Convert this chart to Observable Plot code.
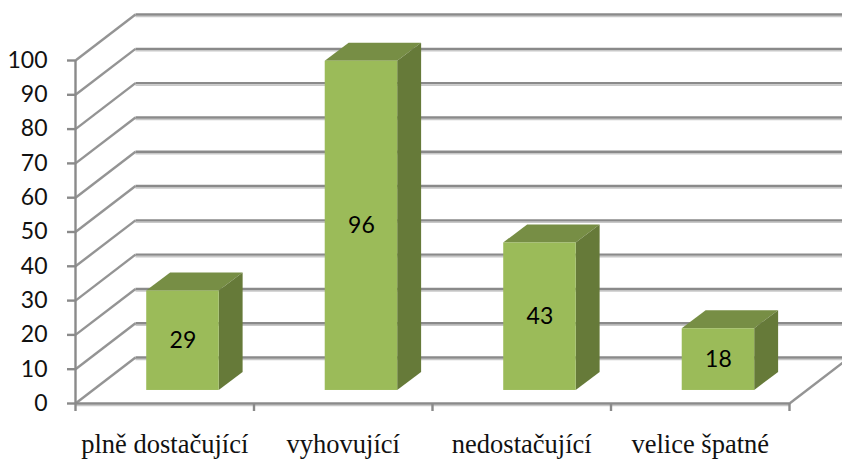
<!DOCTYPE html>
<html>
<head>
<meta charset="utf-8">
<script src="https://cdn.jsdelivr.net/npm/d3@7"></script>
<script src="https://cdn.jsdelivr.net/npm/@observablehq/plot@0.6"></script>
<style>
html,body{margin:0;padding:0;background:#fff;overflow:hidden}
svg{display:block}
</style>
</head>
<body>
<div id="chart"></div>
<script>
const categories = ["plně dostačující", "vyhovující", "nedostačující", "velice špatné"];
const values = [29, 96, 43, 18];
const yTicks = [0, 10, 20, 30, 40, 50, 60, 70, 80, 90, 100];

// Pseudo-3D projection, in scale units (category slots and value units)
const wallX = 0.336, wallY = 13.4;   // depth of the chart box
const barInX = 0.102, barInY = 3.8;  // bar inset from the front of the floor
const barW = 0.406;                  // bar width
const barDX = 0.134, barDY = 5.25;   // depth of a bar

const rows = categories.map((name, i) => {
  const x1 = i + 0.5 - barW / 2 + barInX, x2 = x1 + barW;
  return {name, value: values[i], x1, x2, base: barInY, top: values[i] + barInY};
});
const topFace = rows.flatMap(d => [
  {name: d.name, y: d.top, x1: d.x1, x2: d.x2},
  {name: d.name, y: d.top + barDY, x1: d.x1 + barDX, x2: d.x2 + barDX}
]);
const sideFace = rows.flatMap(d => [
  {name: d.name, x: d.x2, y1: d.base, y2: d.top},
  {name: d.name, x: d.x2 + barDX, y1: d.base + barDY, y2: d.top + barDY}
]);

const grid = "#8a8a8a";
const shade = "#c8c8c8";
const chart = Plot.plot({
  width: 842, height: 461,
  marginLeft: 75, marginRight: 53, marginTop: 60, marginBottom: 58,
  x: {domain: [0, categories.length], axis: null},
  y: {domain: [0, 100], axis: null},
  marks: [
    // soft edge under the back wall lines
    Plot.link(yTicks, {x1: wallX, x2: categories.length + wallX, y1: d => d + wallY, y2: d => d + wallY, dy: 2, stroke: shade, strokeWidth: 1.5}),
    // back wall lines
    Plot.link(yTicks, {x1: wallX, x2: categories.length + wallX, y1: d => d + wallY, y2: d => d + wallY, stroke: grid, strokeWidth: 2.4}),
    // side wall lines
    Plot.link(yTicks, {x1: 0, x2: wallX, y1: d => d, y2: d => d + wallY, stroke: "#949494", strokeWidth: 2.4}),
    // right floor edge
    Plot.link([0], {x1: categories.length, x2: categories.length + wallX, y1: 0, y2: wallY, stroke: "#949494", strokeWidth: 2.4}),
    // front floor edge and vertical axis
    Plot.ruleY([0], {x1: 0, x2: categories.length, dy: 2, stroke: shade, strokeWidth: 1.5}),
    Plot.ruleY([0], {x1: 0, x2: categories.length, stroke: grid, strokeWidth: 2.4}),
    Plot.ruleX([0], {y1: 0, y2: 100, stroke: grid, strokeWidth: 2.4}),
    // axes
    Plot.axisY({ticks: yTicks, tickSize: 8, tickPadding: 20, stroke: grid, strokeWidth: 2.4, fontSize: 23, fontFamily: "Lato", fill: "#111", marginLeft: 75}),
    Plot.axisX({ticks: d3.range(categories.length + 1), tickSize: 8, stroke: grid, strokeWidth: 2.4, tickFormat: () => ""}),
    Plot.axisX({ticks: categories.map((_, i) => i + 0.5), tickSize: 0, tickPadding: 31, fontSize: 26.5, fontFamily: "Liberation Serif", fill: "#111", tickFormat: d => categories[d - 0.5]}),
    // bars
    Plot.areaX(topFace, {y: "y", x1: "x1", x2: "x2", z: "name", fill: "#778e45"}),
    Plot.areaY(sideFace, {x: "x", y1: "y1", y2: "y2", z: "name", fill: "#667a39"}),
    Plot.rect(rows, {x1: "x1", x2: "x2", y1: "base", y2: "top", fill: "#9bbb59"}),
    Plot.text(rows, {x: d => (d.x1 + d.x2) / 2, y: d => (d.base + d.top) / 2, text: d => String(d.value), fontSize: 23, fontFamily: "Lato", fill: "#000"})
  ]
});
document.getElementById("chart").append(chart);
</script>
</body>
</html>
